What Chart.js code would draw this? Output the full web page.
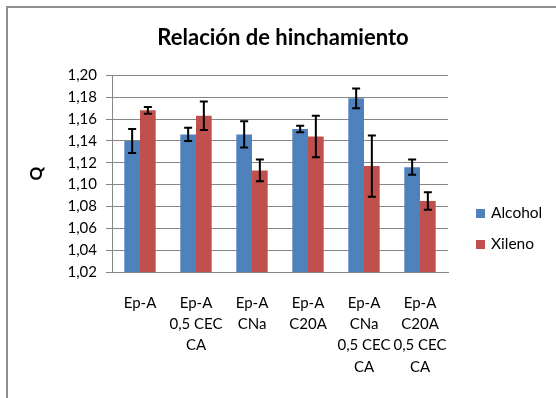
<!DOCTYPE html>
<html>
<head>
<meta charset="utf-8">
<script src="https://cdn.jsdelivr.net/npm/chart.js@4.4.1/dist/chart.umd.min.js"></script>
<style>
  html, body { margin: 0; padding: 0; background: #fff; }
  #wrap { position: relative; width: 556px; height: 398px; overflow: hidden; }
  #frame { position: absolute; left: 6px; top: 6px; right: -10px; bottom: -10px;
           border-left: 2px solid #8e8e8e; border-top: 2px solid #8e8e8e; pointer-events: none; }
  canvas { position: absolute; left: 0; top: 0; }
</style>
</head>
<body>
<div id="wrap">
  <canvas id="chart" width="556" height="398"></canvas>
  <div id="frame"></div>
</div>
<script>
// data
const categories = [
    ['Ep-A'],
    ['Ep-A', '0,5 CEC', 'CA'],
    ['Ep-A', 'CNa'],
    ['Ep-A', 'C20A'],
    ['Ep-A', 'CNa', '0,5 CEC', 'CA'],
    ['Ep-A', 'C20A', '0,5 CEC', 'CA']
];
const alcohol    = [1.140, 1.146, 1.146, 1.151, 1.179, 1.116];
const alcoholErr = [0.011, 0.006, 0.012, 0.003, 0.009, 0.007];
const xileno     = [1.168, 1.163, 1.113, 1.144, 1.117, 1.085];
const xilenoErr  = [0.003, 0.013, 0.010, 0.019, 0.028, 0.008];
const seriesNames = ['Alcohol', 'Xileno'];
const yMin = 1.02, yMax = 1.20, yStep = 0.02;

const BLUE = '#4f81bd';
const RED = '#c0504d';
const FONT = 'Lato, "Open Sans", sans-serif';

// error bars drawn on top of each bar
const errorBars = {
    id: 'errorBars',
    afterDatasetsDraw(chart) {
        const ctx = chart.ctx;
        const y = chart.scales.y;
        ctx.save();
        ctx.strokeStyle = '#000';
        ctx.lineWidth = 2;
        chart.data.datasets.forEach((ds, di) => {
            const meta = chart.getDatasetMeta(di);
            meta.data.forEach((bar, i) => {
                const v = ds.data[i], e = ds.errors[i];
                const top = y.getPixelForValue(v + e);
                const bot = y.getPixelForValue(v - e);
                ctx.beginPath();
                ctx.moveTo(bar.x, top); ctx.lineTo(bar.x, bot);
                ctx.moveTo(bar.x - 4, top); ctx.lineTo(bar.x + 4, top);
                ctx.moveTo(bar.x - 4, bot); ctx.lineTo(bar.x + 4, bot);
                ctx.stroke();
            });
        });
        ctx.restore();
    }
};

// legend on the right, lower half like the original
const sideLegend = {
    id: 'sideLegend',
    afterDraw(chart) {
        const ctx = chart.ctx;
        const area = chart.chartArea;
        ctx.save();
        ctx.font = '15.5px ' + FONT;
        ctx.textBaseline = 'middle';
        chart.data.datasets.forEach((ds, i) => {
            const cy = area.bottom - 59 + i * 31;
            ctx.fillStyle = ds.backgroundColor;
            ctx.fillRect(area.right + 28, cy - 4, 9, 9);
            ctx.fillStyle = '#000';
            ctx.fillText(ds.label, area.right + 43, cy);
        });
        ctx.restore();
    }
};

new Chart(document.getElementById('chart').getContext('2d'), {
    type: 'bar',
    data: {
        labels: categories,
        datasets: [
            { label: seriesNames[0], data: alcohol, errors: alcoholErr, backgroundColor: BLUE },
            { label: seriesNames[1], data: xileno, errors: xilenoErr, backgroundColor: RED }
        ]
    },
    options: {
        responsive: false,
        animation: false,
        devicePixelRatio: 1,
        layout: { padding: { left: 10, right: 0, top: 0, bottom: 0 } },
        datasets: { bar: { categoryPercentage: 0.56, barPercentage: 1 } },
        plugins: {
            legend: { display: false },
            tooltip: { enabled: false },
            title: {
                display: true,
                text: 'Relación de hinchamiento',
                color: '#000',
                font: { family: FONT, size: 22, weight: 'bold' },
                padding: { top: 25, bottom: 24 }
            }
        },
        scales: {
            x: {
                grid: { display: false },
                border: { display: true, color: '#868686', width: 1 },
                ticks: {
                    color: '#000',
                    padding: 12,
                    maxRotation: 0,
                    autoSkip: false,
                    font: { family: FONT, size: 15, lineHeight: 1.43 }
                },
                afterFit(scale) { scale.height = 126; }
            },
            y: {
                min: yMin,
                max: yMax,
                ticks: {
                    stepSize: yStep,
                    color: '#000',
                    padding: 9,
                    font: { family: FONT, size: 15 },
                    callback: v => v.toFixed(2).replace('.', ',')
                },
                grid: { color: '#868686', lineWidth: 1, tickLength: 6 },
                border: { display: true, color: '#868686', width: 1 },
                title: {
                    display: true,
                    text: 'Q',
                    color: '#000',
                    font: { family: FONT, size: 17, weight: 'bold' },
                    padding: { top: 16, bottom: 0 }
                },
                afterFit(scale) { scale.width = 102; }
            },
            // empty axis that only reserves room for the legend
            spacer: {
                type: 'linear',
                position: 'right',
                grid: { display: false },
                border: { display: false },
                ticks: { display: false },
                afterFit(scale) { scale.width = 108; }
            }
        }
    },
    plugins: [errorBars, sideLegend]
});
</script>
</body>
</html>
